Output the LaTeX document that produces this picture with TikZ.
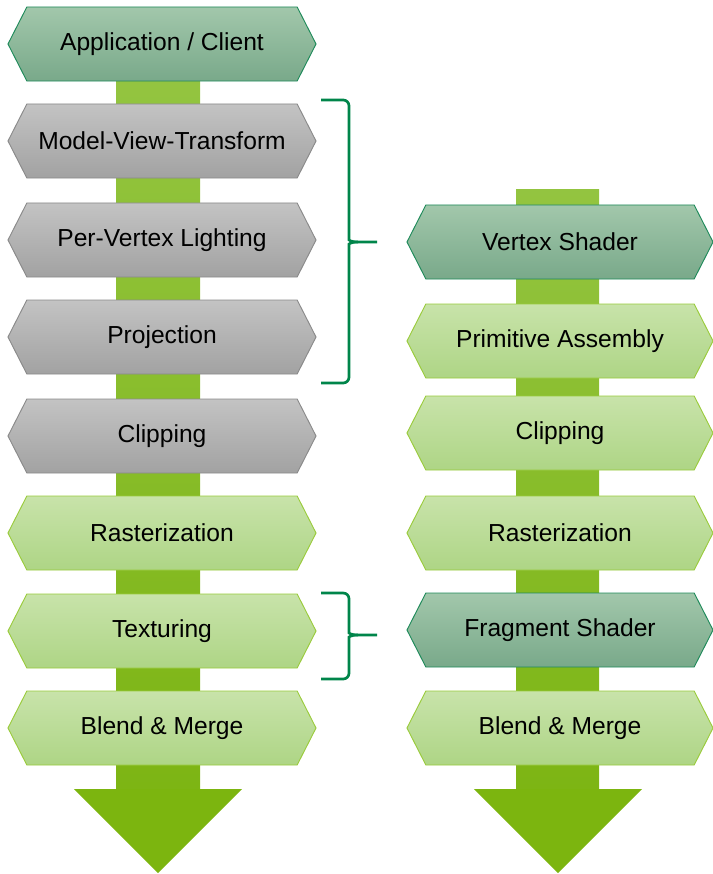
\documentclass[tikz,border=0pt]{standalone}
\usepackage{fontspec}
\setmainfont{Liberation Sans}
\usetikzlibrary{shapes.symbols}
\definecolor{greytop}{HTML}{C3C3C3}
\definecolor{greybot}{HTML}{A2A2A2}
\definecolor{greyline}{HTML}{8A8A8A}
\definecolor{shadetop}{HTML}{A2C7AB}
\definecolor{shadebot}{HTML}{79A98A}
\definecolor{shadeline}{HTML}{1E8A5A}
\definecolor{lighttop}{HTML}{C8E3AA}
\definecolor{lightbot}{HTML}{AED585}
\definecolor{lightline}{HTML}{9ACB3C}
\definecolor{shafttop}{HTML}{93C440}
\definecolor{shaftbot}{HTML}{7DB514}
\definecolor{headcol}{HTML}{7CB50F}
\definecolor{braceline}{HTML}{00854A}

\begin{document}
\begin{tikzpicture}[x=0.03cm,y=-0.03cm,
  stage/.style={signal,signal to=west and east,signal pointer angle=126,
    minimum height=2.22cm,inner sep=0pt,line width=0.8pt,
    font=\fontsize{21}{25}\selectfont},
  leftstage/.style={stage,minimum width=9.24cm},
  rightstage/.style={stage,minimum width=9.18cm},
  fixedfn/.style={draw=greyline,top color=greytop,bottom color=greybot},
  shaderfn/.style={draw=shadeline,top color=shadetop,bottom color=shadebot},
  plainfn/.style={draw=lightline,top color=lighttop,bottom color=lightbot},
  shaft/.style={top color=shafttop,bottom color=shaftbot},
  bracket/.style={draw=braceline,line width=2.3pt,rounded corners=5pt}]
\useasboundingbox (0,0) rectangle (713,874);

% the two big arrows behind the stages
\fill[shaft] (116,80) rectangle (200,790);
\fill[headcol] (74,789) -- (242,789) -- (158,873) -- cycle;
\fill[shaft] (516,189) rectangle (599,790);
\fill[headcol] (474,789) -- (642,789) -- (558,873) -- cycle;

% fixed function pipeline
\node[leftstage,shaderfn] (app) at (162,44) {Application / Client};
\node[leftstage,fixedfn] (mvt) at (162,141) {Model-View-Transform};
\node[leftstage,fixedfn] (light) at (162,240) {Per-Vertex Lighting};
\node[leftstage,fixedfn] (proj) at (162,337) {Projection};
\node[leftstage,fixedfn] (lclip) at (162,436) {Clipping};
\node[leftstage,plainfn] (lrast) at (162,533) {Rasterization};
\node[leftstage,plainfn] (tex) at (162,631) {Texturing};
\node[leftstage,plainfn] (lblend) at (162,728) {Blend \& Merge};

% programmable pipeline
\node[rightstage,shaderfn] (vs) at (560,242) {Vertex Shader};
\node[rightstage,plainfn] (prim) at (560,341) {Primitive Assembly};
\node[rightstage,plainfn] (rclip) at (560,433) {Clipping};
\node[rightstage,plainfn] (rrast) at (560,533) {Rasterization};
\node[rightstage,shaderfn] (fs) at (560,630) {Fragment Shader};
\node[rightstage,plainfn] (rblend) at (560,728) {Blend \& Merge};

% braces
\draw[bracket] (321,100) -- (349,100) -- (349,234) [sharp corners] .. controls (349,240) and (351,242) .. (358,242) -- (377,242);
\draw[bracket] (321,383) -- (349,383) -- (349,250) [sharp corners] .. controls (349,244) and (351,242) .. (358,242);
\draw[bracket] (321,593) -- (349,593) -- (349,627) [sharp corners] .. controls (349,633) and (351,635) .. (358,635) -- (377,635);
\draw[bracket] (321,679) -- (349,679) -- (349,643) [sharp corners] .. controls (349,637) and (351,635) .. (358,635);
\end{tikzpicture}
\end{document}
